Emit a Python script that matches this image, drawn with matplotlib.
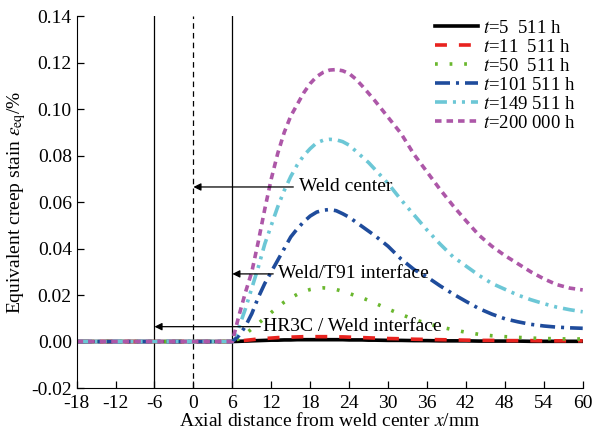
import numpy as np
import matplotlib
matplotlib.use('Agg')
import matplotlib.pyplot as plt

plt.rcParams['font.family'] = ['Liberation Serif', 'DejaVu Serif']
plt.rcParams['mathtext.fontset'] = 'stix'
plt.rcParams['axes.unicode_minus'] = False
plt.rcParams['lines.scale_dashes'] = False

# Distância axial a partir do centro da solda (mm)
x = [-18, 6, 7, 8, 9, 10, 11, 12, 13, 14, 15, 16, 17, 18, 19, 20, 21, 22, 23, 24,
     25, 26, 27, 28, 30, 32, 34, 36, 38, 40, 42, 44, 46, 48, 50, 52, 54, 56, 58, 60]

# Deformação de fluência equivalente (%) para cada tempo de serviço
eps_5511 = [0, 0, 0.0001, 0.0002, 0.0003, 0.0004, 0.0005, 0.0006, 0.0006, 0.0007,
            0.0007, 0.0008, 0.0008, 0.0008, 0.0008, 0.0008, 0.0008, 0.0008, 0.0008, 0.0007,
            0.0007, 0.0007, 0.0006, 0.0006, 0.0005, 0.0005, 0.0004, 0.0004, 0.0003, 0.0003,
            0.0003, 0.0002, 0.0002, 0.0002, 0.0002, 0.0001, 0.0001, 0.0001, 0.0001, 0.0001]
eps_11511 = [0, 0, 0.0002, 0.0005, 0.0008, 0.0011, 0.0013, 0.0015, 0.0017, 0.0018,
             0.0019, 0.0020, 0.0021, 0.0021, 0.0021, 0.0021, 0.0021, 0.0020, 0.0020, 0.0019,
             0.0018, 0.0017, 0.0016, 0.0015, 0.0013, 0.0012, 0.0010, 0.0009, 0.0008, 0.0007,
             0.0006, 0.0005, 0.0005, 0.0004, 0.0004, 0.0004, 0.0003, 0.0003, 0.0003, 0.0003]
eps_50511 = [0, 0, 0.0012, 0.0032, 0.0055, 0.0078, 0.0101, 0.0125, 0.0148, 0.0170,
             0.0188, 0.0203, 0.0215, 0.0224, 0.0229, 0.0231, 0.0229, 0.0224, 0.0216, 0.0207,
             0.0197, 0.0188, 0.0177, 0.0165, 0.0140, 0.0117, 0.0095, 0.0078, 0.0063, 0.0051,
             0.0040, 0.0031, 0.0025, 0.0021, 0.0018, 0.0015, 0.0013, 0.0012, 0.0011, 0.0011]
eps_101511 = [0, 0, 0.0025, 0.0065, 0.0120, 0.0190, 0.0250, 0.0300, 0.0350, 0.0400,
              0.0450, 0.0485, 0.0515, 0.0540, 0.0557, 0.0565, 0.0568, 0.0563, 0.0550, 0.0535,
              0.0515, 0.0495, 0.0475, 0.0455, 0.0410, 0.0355, 0.0310, 0.0278, 0.0240, 0.0205,
              0.0173, 0.0142, 0.0118, 0.0098, 0.0085, 0.0074, 0.0067, 0.0062, 0.0059, 0.0057]
eps_149511 = [0, 0, 0.006, 0.014, 0.023, 0.032, 0.042, 0.050, 0.058, 0.065,
              0.071, 0.076, 0.080, 0.083, 0.0855, 0.0866, 0.087, 0.0868, 0.086, 0.0845,
              0.082, 0.0795, 0.077, 0.074, 0.068, 0.061, 0.0545, 0.048, 0.042, 0.0365,
              0.0325, 0.0285, 0.025, 0.0225, 0.020, 0.018, 0.0163, 0.0148, 0.0137, 0.0128]
eps_200000 = [0, 0, 0.011, 0.021, 0.030, 0.043, 0.057, 0.070, 0.081, 0.090,
              0.097, 0.102, 0.107, 0.111, 0.114, 0.1158, 0.1168, 0.117, 0.1165, 0.1153,
              0.113, 0.110, 0.1068, 0.1035, 0.0965, 0.0895, 0.0805, 0.073, 0.0655, 0.0585,
              0.052, 0.0458, 0.041, 0.037, 0.0335, 0.030, 0.027, 0.0245, 0.023, 0.0222]

rotulos = ['$t$=5  511 h', '$t$=11  511 h', '$t$=50  511 h',
           '$t$=101 511 h', '$t$=149 511 h', '$t$=200 000 h']
series = [eps_5511, eps_11511, eps_50511, eps_101511, eps_149511, eps_200000]
cores = ['#000000', '#E8231F', '#6AB72E', '#1F4C9C', '#6CC7D6', '#AD57A8']
tracos = [None, (8.6, 8.6), (2.0, 8.5), (10.8, 4.3, 2.2, 4.3),
          (8.6, 4.3, 2.2, 4.3, 2.2, 4.3), (4.7, 3.6)]

# Interfaces da junta soldada
x_hr3c = -6
x_centro = 0
x_t91 = 6

fig = plt.figure(figsize=(5.94, 4.36), dpi=100)
ax = fig.add_axes([0.129, 0.110, 0.852, 0.853])

ax.axvline(x_hr3c, color='k', lw=0.9)
ax.axvline(x_centro, color='k', lw=0.9, ls=(0, (4, 3)))
ax.axvline(x_t91, color='k', lw=0.9)

for y, rot, cor, tr in zip(series, rotulos, cores, tracos):
    linha, = ax.plot(x, y, color=cor, lw=2.6, label=rot)
    if tr is not None:
        linha.set_dashes(tr)

seta = dict(arrowstyle='-|>', color='k', lw=0.9, mutation_scale=11, shrinkA=0, shrinkB=0)
ax.annotate('', xy=(x_centro, 0.0665), xytext=(15.4, 0.0665), arrowprops=seta)
ax.text(16.2, 0.0665, 'Weld center', fontsize=14, va='center')
ax.annotate('', xy=(x_t91, 0.0291), xytext=(12.3, 0.0291), arrowprops=seta)
ax.text(13.0, 0.0291, 'Weld/T91 interface', fontsize=14, va='center')
ax.annotate('', xy=(x_hr3c, 0.0064), xytext=(10.3, 0.0064), arrowprops=seta)
ax.text(10.7, 0.0064, 'HR3C / Weld interface', fontsize=14, va='center')

ax.set_xlim(-18, 60)
ax.set_ylim(-0.02, 0.14)
ax.set_xticks(np.arange(-18, 61, 6))
ax.set_yticks(np.arange(-0.02, 0.141, 0.02))
ax.yaxis.set_major_formatter(matplotlib.ticker.FormatStrFormatter('%.2f'))
ax.tick_params(direction='in', length=5, width=0.9, labelsize=14)
ax.tick_params(axis='x', pad=5)
ax.spines['top'].set_visible(False)
ax.spines['right'].set_visible(False)

ax.set_xlabel('Axial distance from weld center $x$/mm', fontsize=14, labelpad=0)
ax.set_ylabel(r'Equivalent creep stain $\varepsilon_{\mathrm{eq}}$/%', fontsize=14, labelpad=2)

ax.legend(loc='upper right', frameon=False, fontsize=13.5, labelspacing=0.1,
          handlelength=2.3, handletextpad=0.25, borderaxespad=0,
          bbox_to_anchor=(1.0, 1.01))

fig.savefig('out.png')
